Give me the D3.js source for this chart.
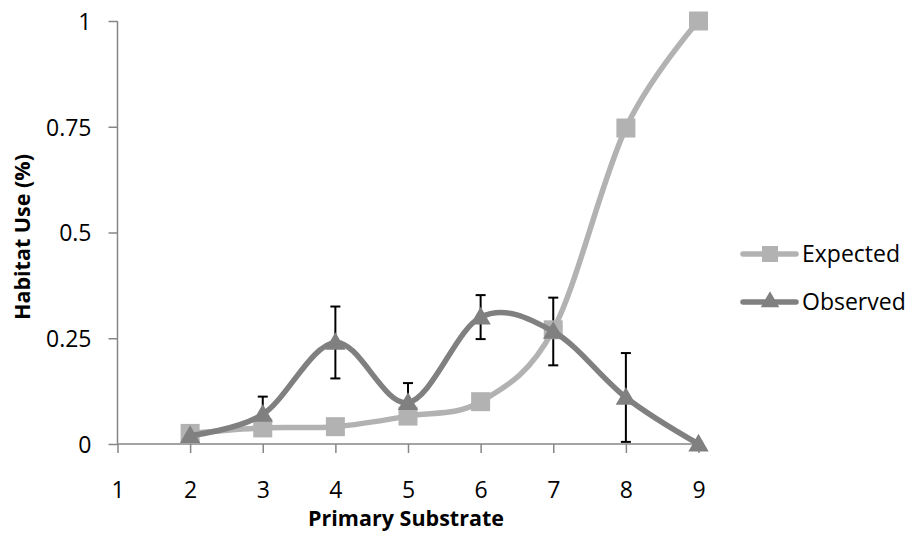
<!DOCTYPE html>
<html>
<head>
<meta charset="utf-8">
<script src="https://cdn.jsdelivr.net/npm/d3@7"></script>
<style>
  html, body { margin: 0; padding: 0; background: #fff; }
  svg { display: block; }
  text { font-family: "Open Sans", "Noto Sans", sans-serif; fill: #000; }
</style>
</head>
<body>
<svg id="chart" width="908" height="534"></svg>
<script>
// Substrate categories and habitat-use proportions
const categories = [1, 2, 3, 4, 5, 6, 7, 8, 9];
const substrates = [2, 3, 4, 5, 6, 7, 8, 9];
const expected = [0.025, 0.038, 0.041, 0.066, 0.10, 0.27, 0.747, 1.0];
const observed = [0.02, 0.07, 0.24, 0.098, 0.30, 0.266, 0.11, 0.0];
const observedErr = [0, 0.042, 0.085, 0.046, 0.052, 0.080, 0.105, 0];
const yTicks = [0, 0.25, 0.5, 0.75, 1];
const seriesNames = ["Expected", "Observed"];

const svg = d3.select("#chart");

const x = d3.scaleLinear().domain([1, 9]).range([117.5, 698.5]);
const y = d3.scaleLinear().domain([0, 1]).range([444, 21]);

const axisColor = "#868686";
const expColor = "#b2b2b2";
const obsColor = "#808080";

// Axes
const yAxis = svg.append("g").attr("transform", `translate(${x(1)},0)`)
  .call(d3.axisLeft(y).tickValues(yTicks).tickSize(9).tickPadding(17)
    .tickFormat(d => String(d)));
const xAxis = svg.append("g").attr("transform", `translate(0,${y(0)})`)
  .call(d3.axisBottom(x).tickValues(categories).tickSize(9).tickPadding(29)
    .tickFormat(d3.format("d")));

[yAxis, xAxis].forEach(g => {
  g.select(".domain").attr("stroke", axisColor).attr("stroke-width", 1.5);
  g.selectAll(".tick line").attr("stroke", axisColor).attr("stroke-width", 1.5);
  g.selectAll(".tick text").attr("font-size", 23).attr("fill", "#000")
    .style("font-family", '"Open Sans", sans-serif');
});
yAxis.selectAll(".tick text").attr("dy", "0.36em");
yAxis.select(".domain").attr("d", `M0,${y(1)}V${y(0)}`);
xAxis.select(".domain").attr("d", `M${x(1)},0H${x(9) + 2}`);

// Axis titles
svg.append("text")
  .attr("x", (x(1) + x(9)) / 2 - 2).attr("y", 526)
  .attr("text-anchor", "middle").attr("font-size", 21.5).attr("font-weight", "bold")
  .text("Primary Substrate");
svg.append("text")
  .attr("transform", `translate(30,237) rotate(-90)`)
  .attr("text-anchor", "middle").attr("font-size", 21.5).attr("font-weight", "bold")
  .text("Habitat Use (%)");

// Error bars on the observed series (drawn beneath the markers)
const errG = svg.append("g");
substrates.forEach((s, i) => {
  const e = observedErr[i];
  if (!e) return;
  const cx = x(s), y1 = y(observed[i] + e), y0 = y(Math.max(0, observed[i] - e));
  errG.append("line").attr("x1", cx).attr("x2", cx).attr("y1", y1).attr("y2", y0)
    .attr("stroke", "#000").attr("stroke-width", 2);
  [y1, y0].forEach(yy => errG.append("line")
    .attr("x1", cx - 5).attr("x2", cx + 5).attr("y1", yy).attr("y2", yy)
    .attr("stroke", "#000").attr("stroke-width", 2));
});

const line = d3.line().x(d => x(d[0])).y(d => y(d[1])).curve(d3.curveCardinal.tension(0));

const sq = d3.symbol().type(d3.symbolSquare).size(19 * 19);
const tri = d3.symbol().type(d3.symbolTriangle).size(180);

function drawSeries(vals, color, sym, dyOff) {
  const pts = substrates.map((s, i) => [s, vals[i]]);
  svg.append("path").datum(pts).attr("d", line)
    .attr("fill", "none").attr("stroke", color).attr("stroke-width", 5.5)
    .attr("stroke-linejoin", "round").attr("stroke-linecap", "round");
  svg.append("g").selectAll("path").data(pts).join("path")
    .attr("d", sym)
    .attr("transform", d => `translate(${x(d[0])},${y(d[1]) + dyOff})`)
    .attr("fill", color);
}
drawSeries(expected, expColor, sq, 0);
drawSeries(observed, obsColor, tri, 1.5);

// Legend
const legend = svg.append("g");
const legendRows = [
  { name: seriesNames[0], color: expColor, sym: d3.symbol().type(d3.symbolSquare).size(16 * 16), y: 254 },
  { name: seriesNames[1], color: obsColor, sym: d3.symbol().type(d3.symbolTriangle).size(150), y: 302 }
];
legendRows.forEach(r => {
  legend.append("line").attr("x1", 743).attr("x2", 796).attr("y1", r.y).attr("y2", r.y)
    .attr("stroke", r.color).attr("stroke-width", 5.5).attr("stroke-linecap", "round");
  legend.append("path").attr("d", r.sym).attr("transform", `translate(770,${r.y})`).attr("fill", r.color);
  legend.append("text").attr("x", 802).attr("y", r.y).attr("dy", "0.36em")
    .attr("font-size", 23).text(r.name);
});
</script>
</body>
</html>
